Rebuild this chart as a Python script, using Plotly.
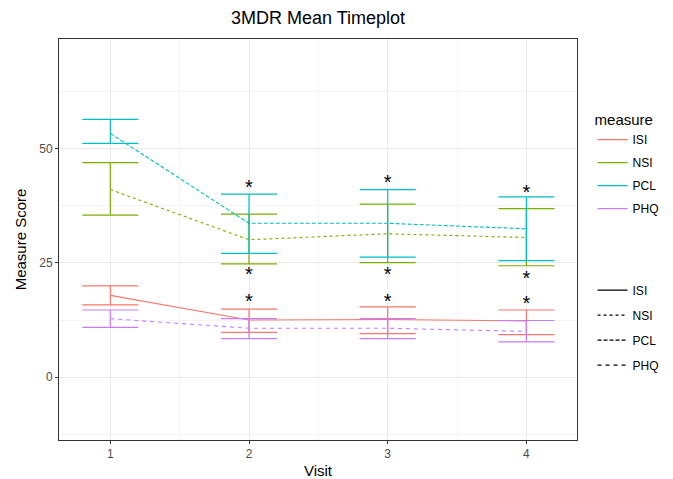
import plotly.graph_objects as go

visits = [1, 2, 3, 4]
measures = ["ISI", "NSI", "PCL", "PHQ"]
colors = {"ISI": "#F8766D", "NSI": "#7CAE00", "PCL": "#00BFC4", "PHQ": "#C77CFF"}
dashes = {"ISI": "solid", "NSI": "dot", "PCL": "4px,2px", "PHQ": "4px,4px"}

mean_vals = {
    "ISI": [17.9, 12.5, 12.6, 12.3],
    "NSI": [41.1, 30.1, 31.4, 30.6],
    "PCL": [53.4, 33.7, 33.7, 32.5],
    "PHQ": [12.8, 10.7, 10.7, 10.0],
}
upper_vals = {
    "ISI": [20.0, 14.9, 15.4, 14.7],
    "NSI": [47.0, 35.7, 37.9, 36.9],
    "PCL": [56.5, 40.1, 41.1, 39.5],
    "PHQ": [14.7, 12.8, 12.8, 12.4],
}
lower_vals = {
    "ISI": [15.8, 9.8, 9.5, 9.3],
    "NSI": [35.5, 24.8, 25.1, 24.4],
    "PCL": [51.2, 27.1, 26.3, 25.5],
    "PHQ": [10.9, 8.4, 8.4, 7.7],
}

star_x = [2, 2, 2, 3, 3, 3, 4, 4, 4]
star_y = [41.2, 22.2, 16.3, 42.3, 22.2, 16.3, 40.1, 21.3, 15.8]

FONT = "Liberation Sans, Arial, sans-serif"

fig = go.Figure()

for m in measures:
    up = [u - v for u, v in zip(upper_vals[m], mean_vals[m])]
    lo = [v - l for l, v in zip(lower_vals[m], mean_vals[m])]
    fig.add_trace(go.Scatter(
        x=visits, y=mean_vals[m], mode="lines",
        line=dict(color=colors[m], width=1.1, dash=dashes[m]),
        error_y=dict(type="data", symmetric=False, array=up, arrayminus=lo,
                     color=colors[m], thickness=1.2, width=28),
        showlegend=False, hoverinfo="skip"))

fig.add_trace(go.Scatter(
    x=star_x, y=star_y, mode="text", text=["*"] * len(star_x),
    textposition="middle center",
    textfont=dict(size=20, color="black", family=FONT),
    showlegend=False, hoverinfo="skip"))

# colour legend
for m in measures:
    fig.add_trace(go.Scatter(
        x=[None], y=[None], mode="lines", name=m,
        line=dict(color=colors[m], width=1.3),
        legend="legend", legendgroup="c" + m))
# linetype legend
for m in measures:
    fig.add_trace(go.Scatter(
        x=[None], y=[None], mode="lines", name=m,
        line=dict(color="black", width=1.1, dash=dashes[m]),
        legend="legend2", legendgroup="l" + m))

axis_common = dict(
    showline=True, mirror=True, linecolor="#333333", linewidth=1,
    ticks="outside", ticklen=3, tickcolor="#333333", tickwidth=1,
    tickfont=dict(size=12, color="#4D4D4D", family=FONT),
    showgrid=True, gridcolor="#EBEBEB", gridwidth=1, zeroline=False,
    automargin=False,
)

fig.update_layout(
    width=673, height=479,
    margin=dict(l=59, r=96, t=38.5, b=39, autoexpand=False),
    paper_bgcolor="white", plot_bgcolor="white",
    font=dict(family=FONT, color="black"),
    title=dict(text="3MDR Mean Timeplot", x=(59 + 577) / 2 / 673, xanchor="center",
               y=1 - 18 / 479, yanchor="middle",
               font=dict(size=18, color="black", family=FONT)),
    xaxis=dict(range=[0.63, 4.365], tickvals=[1, 2, 3, 4], ticktext=["1", "2", "3", "4"],
               title=dict(text="Visit", font=dict(size=15, color="black", family=FONT), standoff=6),
               minor=dict(tickvals=[1.5, 2.5, 3.5], showgrid=True, gridcolor="#F4F4F4",
                          gridwidth=1, ticks=""),
               **axis_common),
    yaxis=dict(range=[-13.8, 74.1], tickvals=[0, 25, 50], ticktext=["0", "25", "50"],
               title=dict(text="Measure Score", font=dict(size=15, color="black", family=FONT), standoff=8),
               minor=dict(tickvals=[-12.5, 12.5, 37.5, 62.5], showgrid=True, gridcolor="#F4F4F4",
                          gridwidth=1, ticks=""),
               **axis_common),
    legend=dict(x=1.03, xanchor="left", y=0.834, yanchor="top",
                title=dict(text="measure", font=dict(size=15, color="black", family=FONT)),
                font=dict(size=12, color="black", family=FONT),
                traceorder="grouped", tracegroupgap=4, bgcolor="rgba(0,0,0,0)"),
    legend2=dict(x=1.03, xanchor="left", y=0.41, yanchor="top",
                 font=dict(size=12, color="black", family=FONT),
                 traceorder="grouped", tracegroupgap=6, bgcolor="rgba(0,0,0,0)"),
)

fig.write_html("out.html", config={"displayModeBar": False},
               post_script="document.body.style.margin='0';document.body.style.overflow='hidden';")
